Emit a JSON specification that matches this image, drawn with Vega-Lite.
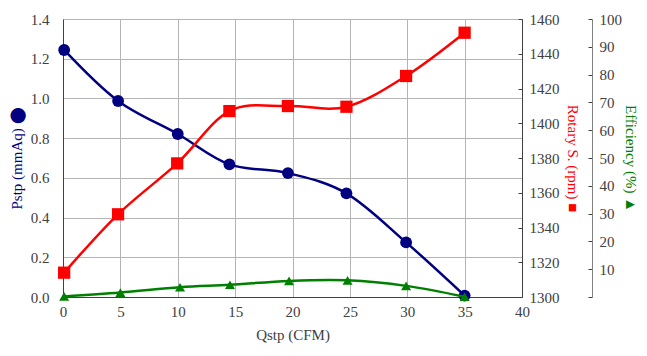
{
  "$schema": "https://vega.github.io/schema/vega-lite/v6.json",
  "width": 459,
  "height": 278,
  "autosize": {"type": "none"},
  "padding": {"left": 63, "top": 19, "right": 125, "bottom": 59},
  "background": "white",
  "config": {
    "font": "Liberation Serif, DejaVu Serif, serif",
    "view": {"stroke": null},
    "axis": {
      "labelFont": "Liberation Serif, DejaVu Serif, serif",
      "titleFont": "Liberation Serif, DejaVu Serif, serif",
      "labelFontSize": 15,
      "titleFontSize": 15,
      "titleFontWeight": "normal",
      "labelColor": "#404040",
      "domainColor": "#404040",
      "tickColor": "#404040",
      "gridColor": "#b4b4b4",
      "gridWidth": 1,
      "labelFlush": false
    }
  },
  "datasets": {
    "pstp": [
      {"q": 0.1, "v": 1.244}, {"q": 4.8, "v": 0.987}, {"q": 10.0, "v": 0.821}, {"q": 14.5, "v": 0.668},
      {"q": 19.6, "v": 0.624}, {"q": 24.7, "v": 0.522}, {"q": 29.9, "v": 0.275}, {"q": 35.0, "v": 0.007}
    ],
    "rpm": [
      {"q": 0.1, "v": 1314}, {"q": 4.8, "v": 1347.6}, {"q": 9.95, "v": 1376.9}, {"q": 14.5, "v": 1407},
      {"q": 19.6, "v": 1409.9}, {"q": 24.7, "v": 1409.5}, {"q": 29.9, "v": 1427.2}, {"q": 35.0, "v": 1452.1}
    ],
    "eff": [
      {"q": 0.1, "v": 0.2}, {"q": 5.0, "v": 1.6}, {"q": 10.2, "v": 3.5}, {"q": 14.55, "v": 4.4},
      {"q": 19.7, "v": 5.8}, {"q": 24.8, "v": 6.0}, {"q": 29.9, "v": 4.0}, {"q": 35.0, "v": 0.1}
    ]
  },
  "layer": [
    {
      "data": {"name": "pstp"},
      "mark": {"type": "line", "interpolate": "cardinal", "color": "#000080", "strokeWidth": 2.5,
        "point": {"filled": true, "shape": "circle", "size": 140, "color": "#000080"}},
      "encoding": {
        "x": {"field": "q", "type": "quantitative", "scale": {"domain": [0, 40]},
          "axis": {"values": [0, 5, 10, 15, 20, 25, 30, 35, 40], "title": "Qstp (CFM)", "titleColor": "#404040",
            "grid": true, "ticks": false, "labelPadding": 7, "titlePadding": 8}},
        "y": {"field": "v", "type": "quantitative", "scale": {"domain": [0, 1.4]},
          "axis": {"orient": "left", "values": [0, 0.2, 0.4, 0.6, 0.8, 1.0, 1.2, 1.4], "format": ".1f",
            "title": "Pstp (mmAq) ⬤", "titleColor": "#000080", "grid": true, "ticks": false,
            "labelPadding": 14, "titlePadding": 6}}
      }
    },
    {
      "data": {"name": "rpm"},
      "mark": {"type": "line", "interpolate": "cardinal", "color": "#ff0000", "strokeWidth": 2.5,
        "point": {"filled": true, "shape": "square", "size": 150, "color": "#ff0000"}},
      "encoding": {
        "x": {"field": "q", "type": "quantitative", "scale": {"domain": [0, 40]}},
        "y": {"field": "v", "type": "quantitative", "scale": {"domain": [1300, 1460]},
          "axis": {"orient": "right", "values": [1300, 1320, 1340, 1360, 1380, 1400, 1420, 1440, 1460],
            "format": "d",
            "title": "Rotary S. (rpm) ■", "titleColor": "#ff0000", "grid": false,
            "tickSize": -4, "labelPadding": 11, "titlePadding": 5}}
      }
    },
    {
      "data": {"name": "eff"},
      "mark": {"type": "line", "interpolate": "cardinal", "color": "#008000", "strokeWidth": 2.5,
        "point": {"filled": true, "shape": "triangle-up", "size": 100, "color": "#008000"}},
      "encoding": {
        "x": {"field": "q", "type": "quantitative", "scale": {"domain": [0, 40]}},
        "y": {"field": "v", "type": "quantitative", "scale": {"domain": [0, 100]},
          "axis": {"orient": "right", "offset": 70, "values": [0, 10, 20, 30, 40, 50, 60, 70, 80, 90, 100],
            "labelExpr": "datum.value == 0 ? '' : datum.label",
            "title": "Efficiency (%) ▲", "titleColor": "#008000", "grid": false,
            "domainColor": "#808080", "tickSize": -4, "labelPadding": 11, "titlePadding": 1}}
      }
    }
  ],
  "resolve": {"scale": {"y": "independent"}}
}
